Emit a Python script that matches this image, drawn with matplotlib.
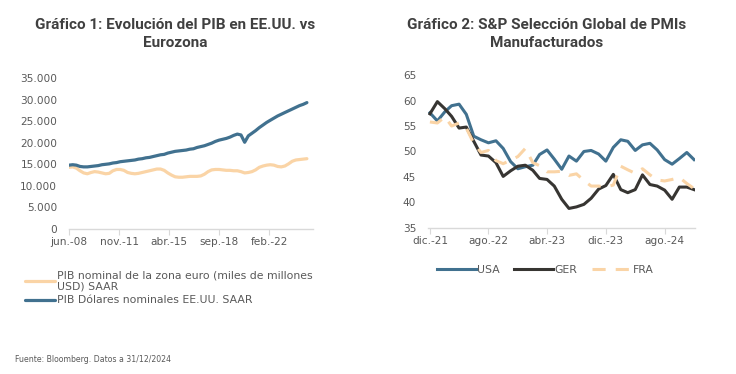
import matplotlib
matplotlib.use("Agg")
import matplotlib.pyplot as plt
from matplotlib.ticker import FuncFormatter, MultipleLocator
import pandas as pd

plt.rcParams['font.family'] = ['DejaVu Sans']

# Gráfico 1: PIB trimestral (miles de millones USD, SAAR), jun.-08 .. sep.-24
pib_fechas = pd.date_range('2008-06-01', periods=66, freq='3MS')
pib_eeuu = [14800, 14900, 14800, 14500, 14400, 14400, 14500, 14600, 14700, 14900,
            15000, 15100, 15300, 15400, 15600, 15700, 15800, 15900, 16000, 16200,
            16300, 16500, 16600, 16800, 17000, 17200, 17300, 17600, 17800, 18000,
            18100, 18200, 18300, 18500, 18600, 18900, 19100, 19300, 19600, 19900,
            20300, 20600, 20800, 21000, 21300, 21700, 22000, 21800, 20100, 21600,
            22200, 22800, 23500, 24100, 24700, 25200, 25700, 26200, 26600, 27000,
            27400, 27800, 28200, 28600, 28900, 29300]
pib_euro = [14300, 14400, 14100, 13500, 13000, 12800, 13100, 13300, 13200, 13000,
            12800, 12900, 13500, 13800, 13800, 13600, 13100, 12900, 12800, 12900,
            13100, 13300, 13500, 13700, 13900, 13900, 13600, 13000, 12500, 12100,
            12000, 12000, 12100, 12200, 12200, 12200, 12300, 12700, 13300, 13700,
            13800, 13800, 13700, 13600, 13600, 13500, 13500, 13300, 13000, 13100,
            13300, 13700, 14300, 14600, 14800, 14900, 14800, 14500, 14400, 14600,
            15100, 15700, 16000, 16100, 16200, 16300]
pib_ticks = ['2008-06-01', '2011-11-01', '2015-04-01', '2018-09-01', '2022-02-01']
pib_tick_labels = ['jun.-08', 'nov.-11', 'abr.-15', 'sep.-18', 'feb.-22']

# Gráfico 2: PMIs manufactureros mensuales, dic.-21 .. dic.-24
pmi_fechas = pd.date_range('2021-12-01', periods=37, freq='MS')
pmi_usa = [57.6, 56.0, 57.8, 59.0, 59.3, 57.3, 53.0, 52.3, 51.7, 52.1,
           50.6, 48.0, 46.6, 47.0, 47.3, 49.4, 50.3, 48.5, 46.5, 49.1,
           48.1, 50.0, 50.2, 49.5, 48.1, 50.8, 52.3, 52.0, 50.2, 51.3,
           51.6, 50.3, 48.4, 47.5, 48.6, 49.8, 48.4]
pmi_ger = [57.4, 59.8, 58.4, 56.9, 54.6, 54.8, 52.0, 49.3, 49.1, 47.8,
           45.1, 46.2, 47.1, 47.3, 46.3, 44.7, 44.5, 43.2, 40.6, 38.8,
           39.1, 39.6, 40.8, 42.6, 43.3, 45.5, 42.5, 41.9, 42.5, 45.4,
           43.5, 43.2, 42.4, 40.6, 43.0, 43.0, 42.5]
pmi_fra = [55.8, 55.6, 56.8, 55.0, 55.6, 54.6, 51.6, 49.8, 50.2, 48.2,
           47.6, 48.3, 49.0, 50.6, 47.8, 47.2, 46.0, 46.0, 46.1, 45.3,
           45.6, 44.3, 43.2, 43.2, 43.0, 43.4, 47.1, 46.4, 45.7, 46.6,
           45.4, 44.4, 44.2, 44.5, 44.9, 43.7, 42.7]
pmi_ticks = ['2021-12-01', '2022-08-01', '2023-04-01', '2023-12-01', '2024-08-01']
pmi_tick_labels = ['dic.-21', 'ago.-22', 'abr.-23', 'dic.-23', 'ago.-24']

AZUL = '#41718F'
NEGRO = '#373532'
NARANJA = '#FAD4A6'
GRIS = '#595959'
EJE = '#D9D9D9'

fig = plt.figure(figsize=(7.36, 3.74), dpi=100)
ax1 = fig.add_axes([0.0938, 0.3877, 0.3315, 0.4037])
ax2 = fig.add_axes([0.5815, 0.391, 0.3628, 0.408])


def estilo(ax):
    for s in ['top', 'right', 'left']:
        ax.spines[s].set_visible(False)
    ax.spines['bottom'].set_color(EJE)
    ax.spines['bottom'].set_linewidth(1.0)
    ax.tick_params(axis='y', length=0, labelsize=7.6, labelcolor=GRIS, pad=8.5)
    ax.tick_params(axis='x', length=4, color=EJE, labelsize=7.6, labelcolor=GRIS, pad=2)


# --- Gráfico 1
ax1.plot(pib_fechas, pib_euro, color=NARANJA, lw=2.3, solid_capstyle='round',
         label='PIB nominal de la zona euro (miles de millones\nUSD) SAAR')
ax1.plot(pib_fechas, pib_eeuu, color=AZUL, lw=2.3, solid_capstyle='round',
         label='PIB Dólares nominales EE.UU. SAAR')
ax1.set_ylim(0, 35000)
ax1.yaxis.set_major_locator(MultipleLocator(5000))
ax1.yaxis.set_major_formatter(FuncFormatter(lambda v, p: f"{v:,.0f}".replace(',', '.')))
ax1.set_xlim(pd.Timestamp('2008-06-01'), pd.Timestamp('2025-02-01'))
ax1.set_xticks(pd.to_datetime(pib_ticks))
ax1.set_xticklabels(pib_tick_labels)
estilo(ax1)

# --- Gráfico 2
ax2.plot(pmi_fechas, pmi_usa, color=AZUL, lw=2.2, label='USA')
ax2.plot(pmi_fechas, pmi_ger, color=NEGRO, lw=2.2, label='GER')
ax2.plot(pmi_fechas, pmi_fra, color=NARANJA, lw=2.2, dashes=(4.3, 3.3), label='FRA')
ax2.set_ylim(35, 65)
ax2.yaxis.set_major_locator(MultipleLocator(5))
ax2.set_xlim(pd.Timestamp('2021-11-23'), pd.Timestamp('2024-12-05'))
ax2.set_xticks(pd.to_datetime(pmi_ticks))
ax2.set_xticklabels(pmi_tick_labels)
estilo(ax2)

# títulos
titulo = dict(fontsize=11, fontweight='bold', color='#404040', ha='center', va='center',
              family=['Roboto', 'DejaVu Sans'], linespacing=1.35)
fig.text(175 / 736, 1 - 34 / 374, 'Gráfico 1: Evolución del PIB en EE.UU. vs\nEurozona', **titulo)
fig.text(547 / 736, 1 - 34 / 374, 'Gráfico 2: S&P Selección Global de PMIs\nManufacturados', **titulo)

# leyendas
leg1 = ax1.legend(loc='upper left', bbox_to_anchor=(25 / 736, 1 - 270 / 374),
                  bbox_transform=fig.transFigure, frameon=False, fontsize=7.8,
                  handlelength=2.8, handletextpad=0.15, labelspacing=0.35,
                  borderaxespad=0, borderpad=0)
for t in leg1.get_texts():
    t.set_color(GRIS)

leg2 = ax2.legend(loc='center', bbox_to_anchor=(545 / 736, 1 - 270 / 374),
                  bbox_transform=fig.transFigure, frameon=False, fontsize=7.8, ncol=3,
                  handlelength=3.6, handletextpad=0.15, columnspacing=1.3,
                  borderaxespad=0, borderpad=0)
for t in leg2.get_texts():
    t.set_color(GRIS)

fig.text(15 / 736, 1 - 359 / 374, 'Fuente: Bloomberg. Datos a 31/12/2024',
         fontsize=5.6, color=GRIS, ha='left', va='center')

fig.savefig('out.png', dpi=100)
